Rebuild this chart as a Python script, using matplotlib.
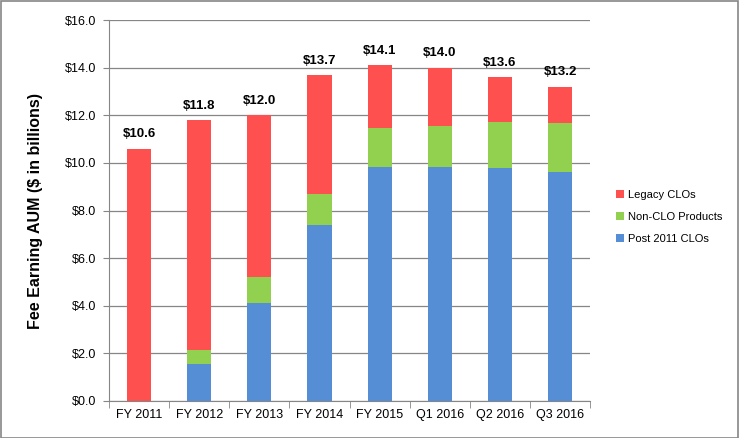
import matplotlib
matplotlib.use("Agg")
import matplotlib.pyplot as plt
import numpy as np

categories = ["FY 2011", "FY 2012", "FY 2013", "FY 2014", "FY 2015",
              "Q1 2016", "Q2 2016", "Q3 2016"]
post_2011 = [0.0, 1.55, 4.12, 7.39, 9.83, 9.84, 9.79, 9.63]
non_clo = [0.0, 0.59, 1.09, 1.32, 1.64, 1.71, 1.93, 2.05]
legacy = [10.6, 9.66, 6.79, 4.99, 2.63, 2.45, 1.88, 1.52]
totals = [10.6, 11.8, 12.0, 13.7, 14.1, 14.0, 13.6, 13.2]
y_ticks = [0, 2, 4, 6, 8, 10, 12, 14, 16]

plt.rcParams["font.family"] = ["Liberation Sans", "DejaVu Sans"]

fig = plt.figure(figsize=(7.39, 4.38), dpi=100)
ax = fig.add_axes([0.1475, 0.0845, 0.651, 0.8695])

x = np.arange(len(categories))
w = 0.4
blue, green, red = "#558ED5", "#92D050", "#FF5050"

ax.bar(x, post_2011, w, color=blue, label="Post 2011 CLOs", zorder=3)
ax.bar(x, non_clo, w, bottom=post_2011, color=green, label="Non-CLO Products", zorder=3)
bottoms = [a + b for a, b in zip(post_2011, non_clo)]
ax.bar(x, legacy, w, bottom=bottoms, color=red, label="Legacy CLOs", zorder=3)

for xi, t in zip(x, totals):
    ax.annotate(f"${t:.1f}", (xi, t), xytext=(0, 6), textcoords="offset points",
                ha="center", va="bottom", fontsize=9.5, fontweight="bold")

ax.set_xlim(-0.5, len(categories) - 0.5)
ax.set_ylim(0, 16)
ax.set_yticks(y_ticks)
ax.set_yticklabels([f"${v:.1f}" for v in y_ticks], fontsize=9)
ax.set_xticks(x)
ax.set_xticklabels(categories, fontsize=9)
ax.set_xticks(np.arange(-0.5, len(categories)), minor=True)
ax.tick_params(axis="x", which="major", length=0, pad=6)
ax.tick_params(axis="x", which="minor", length=5, color="#868686")
ax.tick_params(axis="y", length=4, color="#868686", pad=5)
ax.grid(axis="y", color="#868686", linewidth=0.9, zorder=0)
for s in ["top", "right"]:
    ax.spines[s].set_visible(False)
for s in ["left", "bottom"]:
    ax.spines[s].set_color("#868686")

ax.set_ylabel("Fee Earning AUM ($ in billions)", fontsize=11.5, fontweight="bold",
              labelpad=16)

handles, labels = ax.get_legend_handles_labels()
leg = fig.legend(handles[::-1], labels[::-1], loc="center left",
                 bbox_to_anchor=(0.82, 0.505), frameon=False, fontsize=8,
                 handlelength=0.7, handleheight=0.7, labelspacing=1.1,
                 handletextpad=0.4)

fig.patches.append(plt.Rectangle((0.001, 0.001), 0.997, 0.997, transform=fig.transFigure,
                                 fill=False, edgecolor="#868686", linewidth=1.2))

fig.savefig("out.png", dpi=100)
